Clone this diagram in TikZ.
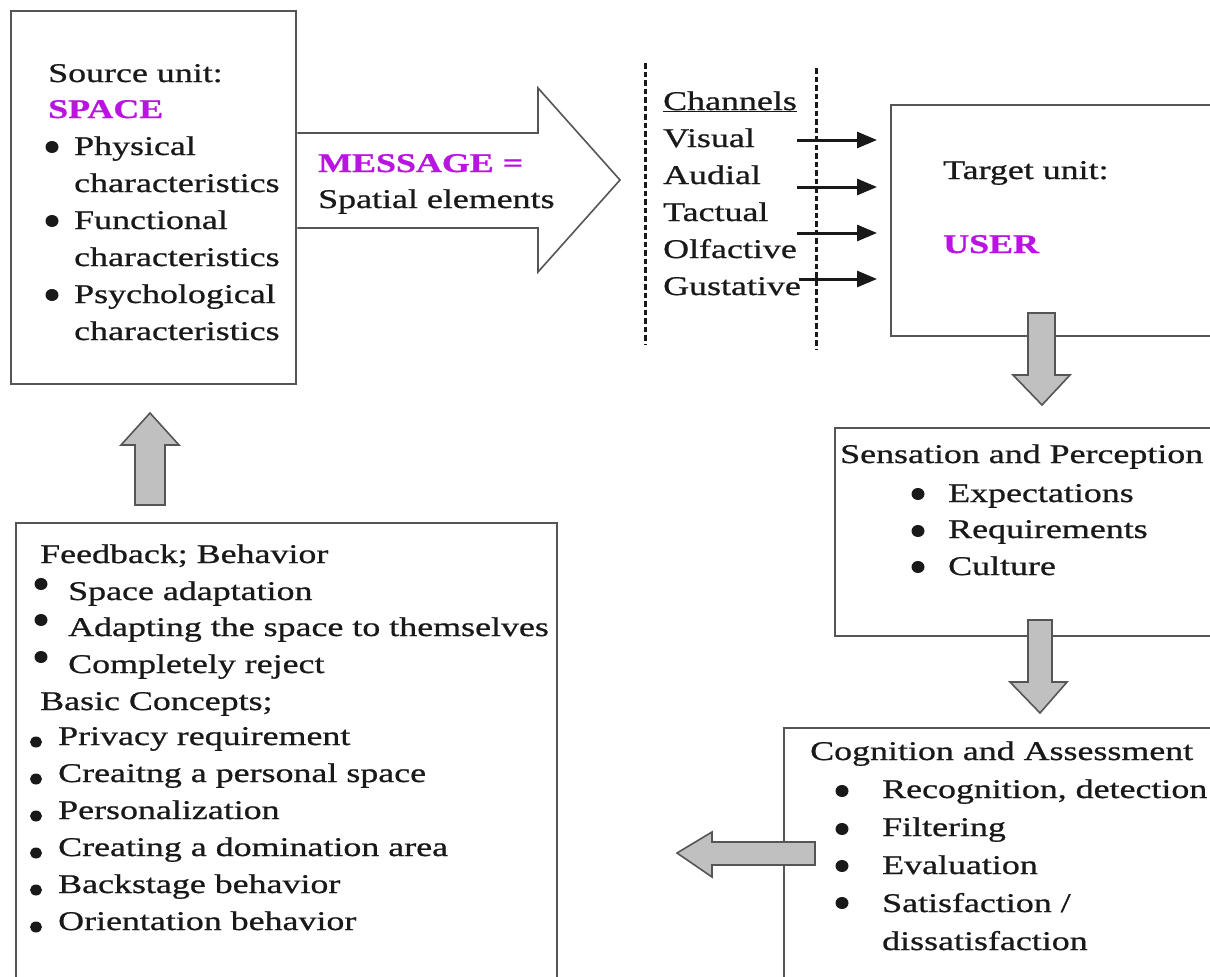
\documentclass[tikz,border=0pt]{standalone}
\usepackage{fontspec}
\setmainfont{Liberation Serif}[FakeStretch=1.33,FakeBold=0.8]
\usetikzlibrary{arrows.meta}
\definecolor{mag}{RGB}{185,20,225}
\definecolor{boxgray}{RGB}{85,85,85}
\definecolor{txtc}{RGB}{25,25,25}
\definecolor{arrfill}{RGB}{192,192,192}
\begin{document}
\begin{tikzpicture}[x=1pt,y=-1pt,
  txt/.style={anchor=base west, inner sep=0pt, font=\fontsize{27}{37}\selectfont, text=txtc},
  mtxt/.style={txt, font=\fontsize{27}{37}\selectfont\bfseries, text=mag},
  box/.style={draw=boxgray, line width=2.4pt, fill=white, anchor=north west, inner sep=0pt},
  bigarrow/.style={draw=boxgray, line width=1.6pt, fill=white, line join=miter},
  fat/.style={draw=boxgray, line width=1.6pt, fill=arrfill, line join=miter},
  dline/.style={line width=3pt, dash pattern=on 5.5pt off 3pt, color=txtc},
  chan/.style={line width=3pt, color=txtc, -{Triangle[length=20pt,width=16pt]}},
  bul/.style={fill=txtc}]
\useasboundingbox (0,0) rectangle (1210,977);
\clip (0,0) rectangle (1210,977);

% boxes
\node[box, minimum width=285pt, minimum height=373pt] (src) at (10,10) {};
\node[box, minimum width=340pt, minimum height=231pt] (tgt) at (890,104) {};
\node[box, minimum width=396pt, minimum height=208pt] (sen) at (834,427) {};
\node[box, minimum width=450pt, minimum height=300pt] (cog) at (783,727) {};
\node[box, minimum width=541pt, minimum height=500pt] (fb) at (15,522) {};

% message arrow
\draw[bigarrow] (src.east |- 0,133) -- (538,133) -- (538,88) -- (620,180) -- (538,272) -- (538,228) -- (src.east |- 0,228);
\node[mtxt] (m1) at (318,172) {MESSAGE =};
\node[txt] (m2) at (318,208) {Spatial elements};

% source text
\node[txt] (s1) at (48,82) {Source unit:};
\node[mtxt] (s2) at (48,118) {SPACE};
\node[txt] (s3) at (74,155) {Physical};
\node[txt] (s4) at (74,192) {characteristics};
\node[txt] (s5) at (74,229) {Functional};
\node[txt] (s6) at (74,266) {characteristics};
\node[txt] (s7) at (74,303) {Psychological};
\node[txt] (s8) at (74,340) {characteristics};
\foreach \y in {147,221,295} \fill[bul] (52,\y) ellipse[x radius=6.5pt, y radius=6pt];

% channels
\draw[dline] (645,63) -- (645,345);
\draw[dline] (816,68) -- (816,350);
\node[txt] (ch0) at (663,110) {\underline{Channels}};
\node[txt] (ch1) at (663,147) {Visual};
\node[txt] (ch2) at (663,184) {Audial};
\node[txt] (ch3) at (663,221) {Tactual};
\node[txt] (ch4) at (663,258) {Olfactive};
\node[txt] (ch5) at (663,295) {Gustative};
\coordinate (a1s) at (797,140); \coordinate (a1e) at (877,140);
\coordinate (a2s) at (797,187); \coordinate (a2e) at (877,187);
\coordinate (a3s) at (797,233); \coordinate (a3e) at (877,233);
\coordinate (a4s) at (799,279); \coordinate (a4e) at (877,279);
\draw[chan] (a1s) -- (a1e);
\draw[chan] (a2s) -- (a2e);
\draw[chan] (a3s) -- (a3e);
\draw[chan] (a4s) -- (a4e);

% target
\node[txt] (t1) at (943,179) {Target unit:};
\node[mtxt] (t2) at (943,253) {USER};

% sensation
\node[txt] (p0) at (840,463) {Sensation and Perception};
\node[txt] (p1) at (948,502) {Expectations};
\node[txt] (p2) at (948,538) {Requirements};
\node[txt] (p3) at (948,575) {Culture};
\foreach \y in {494,531,567} \fill[bul] (918,\y) ellipse[x radius=6.5pt, y radius=6pt];

% cognition
\node[txt] (q0) at (810,760) {Cognition and Assessment};
\node[txt] (q1) at (882,798) {Recognition, detection};
\node[txt] (q2) at (882,836) {Filtering};
\node[txt] (q3) at (882,874) {Evaluation};
\node[txt] (q4) at (882,912) {Satisfaction /};
\node[txt] (q5) at (882,950) {dissatisfaction};
\foreach \y in {791,829,866,903} \fill[bul] (842,\y) ellipse[x radius=6.5pt, y radius=6pt];

% feedback
\node[txt] (f0) at (40,563) {Feedback; Behavior};
\node[txt] (f1) at (68,600) {Space adaptation};
\node[txt] (f2) at (68,636) {Adapting the space to themselves};
\node[txt] (f3) at (68,673) {Completely reject};
\node[txt] (f4) at (40,710) {Basic Concepts;};
\node[txt] (f5) at (58,745) {Privacy requirement};
\node[txt] (f6) at (58,782) {Creaitng a personal space};
\node[txt] (f7) at (58,819) {Personalization};
\node[txt] (f8) at (58,856) {Creating a domination area};
\node[txt] (f9) at (58,893) {Backstage behavior};
\node[txt] (f10) at (58,930) {Orientation behavior};
\foreach \y in {584,620,657} \fill[bul] (41,\y) ellipse[x radius=6.5pt, y radius=6pt];
\foreach \y in {742,779,816,853,890,927} \fill[bul] (36,\y) ellipse[x radius=6pt, y radius=5.5pt];

% fat grey arrows
\draw[fat] (1028,313) -- (1055,313) -- (1055,375) -- (1070,375) -- (1042,405) -- (1013,375) -- (1028,375) -- cycle;
\draw[fat] (1028,620) -- (1052,620) -- (1052,682) -- (1067,682) -- (1040,713) -- (1010,682) -- (1028,682) -- cycle;
\draw[fat] (815,842) -- (815,865) -- (712,865) -- (712,877) -- (677,853) -- (712,832) -- (712,842) -- cycle;
\draw[fat] (135,505) -- (135,445) -- (121,445) -- (150,413) -- (179,445) -- (165,445) -- (165,505) -- cycle;
\end{tikzpicture}
\end{document}
